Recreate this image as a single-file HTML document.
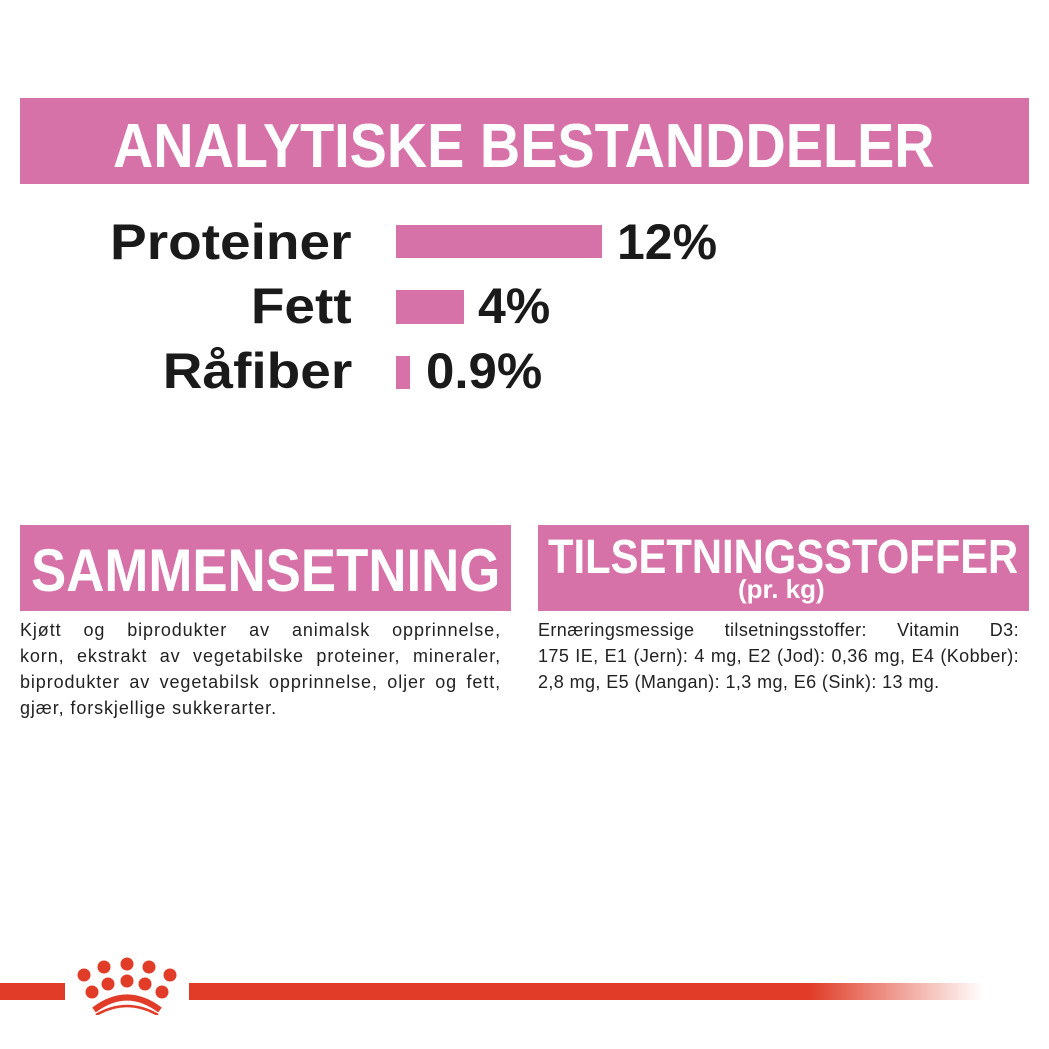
<!DOCTYPE html><html><head><meta charset="utf-8"><style>
body{margin:0;width:1049px;height:1049px;background:#fff;position:relative;overflow:hidden;font-family:"Liberation Sans",sans-serif}
.a{position:absolute}
.pink{background:#d672a8}
.t{color:#fff;font-weight:bold;white-space:nowrap;transform-origin:left top}
.lbl{font-weight:bold;font-size:50px;color:#1a1a1a;white-space:nowrap;transform-origin:right top}
.pct{font-weight:bold;font-size:50px;color:#1a1a1a;white-space:nowrap;transform-origin:left top}
.body{font-size:18px;letter-spacing:0.9px;line-height:26px;color:#222;width:481px}
.body div{text-align:justify;text-align-last:justify;white-space:nowrap;height:26px}
.body div.l{text-align-last:left}
</style></head><body>
<div class="a pink" style="left:20px;top:98px;width:1009px;height:86px"></div>
<div class="a t" style="left:113px;top:111px;font-size:62px;transform:scaleX(0.9)">ANALYTISKE BESTANDDELER</div>

<div class="a lbl" style="right:697px;top:213px;transform:scaleX(1.1)">Proteiner</div>
<div class="a lbl" style="right:697px;top:277px;transform:scaleX(1.1)">Fett</div>
<div class="a lbl" style="right:697px;top:342px;transform:scaleX(1.1)">Råfiber</div>
<div class="a pink" style="left:396px;top:225px;width:206px;height:33px"></div>
<div class="a pink" style="left:396px;top:290px;width:68px;height:34px"></div>
<div class="a pink" style="left:396px;top:356px;width:14px;height:33px"></div>
<div class="a pct" style="left:617px;top:213px">12%</div>
<div class="a pct" style="left:478px;top:277px">4%</div>
<div class="a pct" style="left:426px;top:342px;transform:scaleX(1.02)">0.9%</div>

<div class="a pink" style="left:20px;top:525px;width:491px;height:86px"></div>
<div class="a t" style="left:31px;top:536px;font-size:60px;transform:scaleX(0.88)">SAMMENSETNING</div>
<div class="a pink" style="left:538px;top:525px;width:491px;height:86px"></div>
<div class="a t" style="left:548px;top:530px;font-size:48px;transform:scaleX(0.87)">TILSETNINGSSTOFFER</div>
<div class="a t" style="left:738px;top:574px;font-size:26px;">(pr. kg)</div>

<div class="a body" style="left:20px;top:617px">
<div>Kjøtt og biprodukter av animalsk opprinnelse,</div>
<div>korn, ekstrakt av vegetabilske proteiner, mineraler,</div>
<div>biprodukter av vegetabilsk opprinnelse, oljer og fett,</div>
<div class="l">gjær, forskjellige sukkerarter.</div>
</div>
<div class="a body" style="left:538px;top:617px;letter-spacing:0.4px">
<div>Ernæringsmessige tilsetningsstoffer: Vitamin D3:</div>
<div>175 IE, E1 (Jern): 4 mg, E2 (Jod): 0,36 mg, E4 (Kobber):</div>
<div class="l">2,8 mg, E5 (Mangan): 1,3 mg, E6 (Sink): 13 mg.</div>
</div>

<div class="a" style="left:0;top:983px;width:65px;height:17px;background:#e03c28"></div>
<div class="a" style="left:189px;top:983px;width:795px;height:17px;background:linear-gradient(to right,#e03c28 0%,#e03c28 78%,rgba(224,60,40,0) 100%)"></div>
<svg class="a" style="left:60px;top:955px" width="130" height="60" viewBox="0 0 130 60">
<g fill="#e03c28">
<circle cx="24" cy="20" r="6.5"/><circle cx="44" cy="12" r="6.5"/><circle cx="67" cy="9" r="6.5"/><circle cx="89" cy="12" r="6.5"/><circle cx="110" cy="20" r="6.5"/>
<circle cx="32" cy="37" r="6.5"/><circle cx="48" cy="29" r="6.5"/><circle cx="67" cy="26" r="6.5"/><circle cx="85" cy="29" r="6.5"/><circle cx="102" cy="37" r="6.5"/>
</g>
<path d="M34 55 Q67 30 100 55" stroke="#e03c28" stroke-width="6" fill="none"/>
<path d="M36 60 Q67 42 98 60" stroke="#e03c28" stroke-width="2.5" fill="none"/>
</svg>
</body></html>
